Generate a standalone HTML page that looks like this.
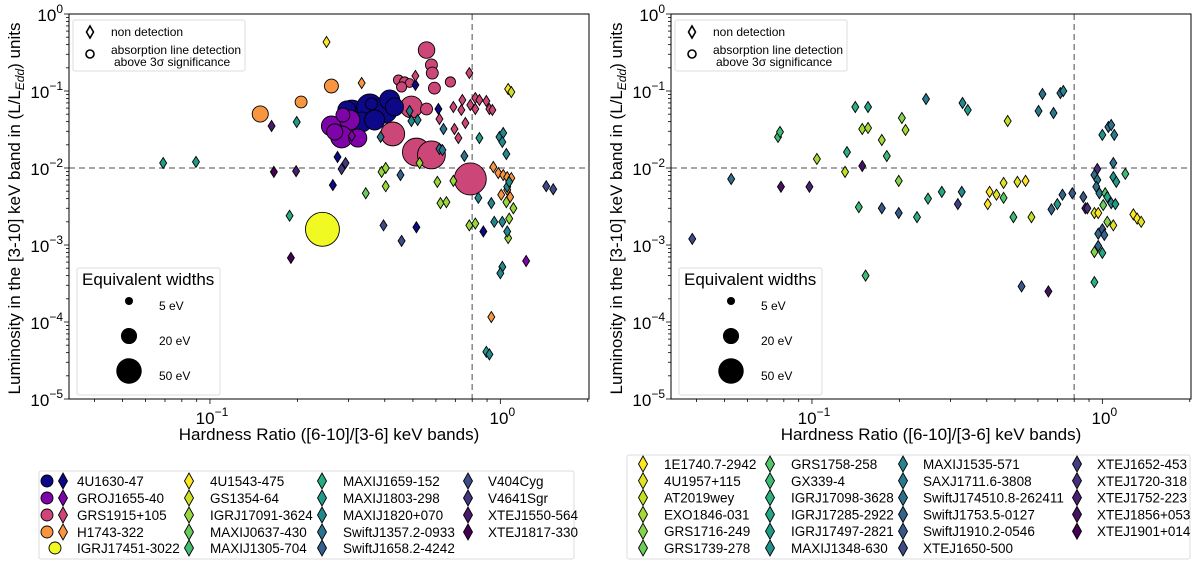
<!DOCTYPE html>
<html><head><meta charset="utf-8"><style>
body{margin:0;background:#fff;}
svg{display:block;font-family:"Liberation Sans","DejaVu Sans",sans-serif;}
</style></head><body>
<svg id="fig" width="1200" height="568" viewBox="0 0 1200 568" xmlns="http://www.w3.org/2000/svg"></svg>
<script>
// ---------- data ----------
const srcNamesL = ["4U1630-47","GROJ1655-40","GRS1915+105","H1743-322","IGRJ17451-3022","4U1543-475","GS1354-64","IGRJ17091-3624","MAXIJ0637-430","MAXIJ1305-704","MAXIJ1659-152","MAXIJ1803-298","MAXIJ1820+070","SwiftJ1357.2-0933","SwiftJ1658.2-4242","V404Cyg","V4641Sgr","XTEJ1550-564","XTEJ1817-330"];
const srcNamesR = ["1E1740.7-2942","4U1957+115","AT2019wey","EXO1846-031","GRS1716-249","GRS1739-278","GRS1758-258","GX339-4","IGRJ17098-3628","IGRJ17285-2922","IGRJ17497-2821","MAXIJ1348-630","MAXIJ1535-571","SAXJ1711.6-3808","SwiftJ174510.8-262411","SwiftJ1753.5-0127","SwiftJ1910.2-0546","XTEJ1650-500","XTEJ1652-453","XTEJ1720-318","XTEJ1752-223","XTEJ1856+053","XTEJ1901+014"];
// left panel detections (circles)
const detHR  = [0.557,0.579,0.583,0.593,0.673,0.446,0.468,0.487,0.457,0.494,0.416,0.557,0.426,0.514,0.579,0.788,0.262,0.206,0.149,0.308,0.355,0.399,0.416,0.333,0.369,0.296,0.432,0.36,0.262,0.303,0.284,0.323,0.269,0.287,0.244];
const detLum = [0.34,0.218,0.171,0.109,0.131,0.139,0.131,0.127,0.113,0.062,0.0678,0.0584,0.0277,0.0161,0.0148,0.0072,0.116,0.072,0.0503,0.0518,0.062,0.0567,0.0764,0.0396,0.042,0.0567,0.062,0.068,0.0351,0.042,0.0253,0.0245,0.0294,0.0488,0.0016];
const detEW  = [21,11,11,11,8,8,8,6,8,37,15,11,44,60,60,79,15,11,20,52,52,52,31,31,31,25,25,11,31,31,37,25,20,15,89];
const detSrc = [2,2,2,2,2,2,2,2,2,2,2,2,2,2,2,2,3,3,3,0,0,0,0,0,0,0,0,0,1,1,1,1,1,1,4];
// left panel non-detections (diamonds)
const ndHR  = [0.252,1.064,1.091,0.51,0.612,0.275,0.265,0.514,0.874,0.51,0.782,0.74,0.82,0.847,0.895,0.788,0.82,0.689,0.734,0.917,0.939,0.617,0.758,0.695,0.717,0.333,0.946,0.984,1.023,1.056,1.091,1.007,1.081,1.056,0.931,0.308,1.227,0.39,0.403,0.403,0.527,0.607,0.689,0.622,0.652,0.782,0.82,1.049,1.073,1.109,1.064,0.344,0.188,0.069,0.0895,0.199,0.494,0.519,0.847,0.993,1.023,1.016,1.049,1.056,1.073,0.84,0.931,0.953,1.016,1.056,1.016,1.0,0.895,0.917,0.487,0.637,0.387,0.617,0.632,0.752,0.453,0.396,0.457,1.439,1.521,0.284,0.293,0.163,0.198,0.166,0.19];
const ndLum = [0.433,0.106,0.097,0.12,0.0584,0.0139,0.006,0.0017,0.0015,0.157,0.171,0.0764,0.081,0.0764,0.0741,0.0658,0.0584,0.062,0.0567,0.0584,0.0567,0.0433,0.0384,0.0321,0.0245,0.127,0.0103,0.0086,0.0081,0.0076,0.0074,0.0045,0.0042,0.0052,0.000116,0.0261,0.00062,0.0089,0.01,0.0058,0.0116,0.0066,0.0068,0.0035,0.0036,0.0018,0.0019,0.0036,0.0022,0.003,0.00123,0.0047,0.0024,0.0116,0.012,0.0396,0.0408,0.042,0.0245,0.0253,0.0285,0.0218,0.0152,0.0057,0.0066,0.0041,0.0035,0.002,0.002,0.0015,0.00052,0.00043,0.000041,0.000038,0.055,0.0321,0.0253,0.0177,0.0171,0.0143,0.0081,0.0018,0.00113,0.0058,0.0053,0.0097,0.0116,0.0351,0.0091,0.0089,0.00068];
const ndSrc = [5,5,6,0,0,0,0,0,0,2,2,2,2,2,2,2,2,2,2,2,2,2,2,2,2,3,3,3,3,3,3,3,3,3,3,1,1,7,7,7,7,7,7,7,7,7,7,7,7,7,7,8,10,11,11,11,12,12,11,12,12,12,12,12,12,12,12,12,12,12,12,12,11,12,13,13,13,13,13,13,14,15,15,15,15,16,16,17,17,18,18];
// right panel (non-detections)
const rHR  = [0.0387,0.0527,0.0764,0.0776,0.0782,0.098,0.104,0.13,0.132,0.141,0.156,0.149,0.156,0.149,0.145,0.153,0.174,0.181,0.174,0.199,0.204,0.21,0.199,0.23,0.247,0.251,0.28,0.318,0.328,0.33,0.344,0.403,0.409,0.432,0.457,0.457,0.472,0.494,0.51,0.544,0.527,0.57,0.603,0.622,0.652,0.668,0.679,0.70,0.717,0.734,0.729,0.788,0.86,0.874,0.888,0.961,0.939,0.961,0.953,0.977,1.0,1.049,1.073,1.099,1.091,1.091,1.117,1.2,1.023,1.04,1.073,1.109,0.939,0.968,1.007,1.04,1.091,0.968,1.0,1.016,0.968,0.939,1.0,0.939,1.279,1.318,1.361];
const rLum = [0.0012,0.0072,0.0253,0.0294,0.0057,0.0057,0.0131,0.0089,0.0161,0.062,0.062,0.0321,0.0331,0.0106,0.0031,0.0004,0.0231,0.0143,0.003,0.0026,0.0446,0.0312,0.0068,0.0023,0.0787,0.004,0.0049,0.0034,0.0049,0.0698,0.0567,0.0034,0.0049,0.0045,0.0064,0.0041,0.0408,0.0023,0.0066,0.0068,0.00029,0.0023,0.055,0.0914,0.00025,0.0029,0.0518,0.0034,0.094,0.1,0.0045,0.0047,0.0042,0.003,0.003,0.0097,0.0081,0.007,0.0057,0.0047,0.0269,0.0341,0.0362,0.0269,0.0116,0.0076,0.0066,0.0084,0.0047,0.0042,0.0035,0.0034,0.0026,0.0026,0.0033,0.002,0.0018,0.0014,0.0016,0.00135,0.00097,0.00081,0.00079,0.00033,0.0025,0.0022,0.002];
const rSrc = [17,14,7,7,21,20,3,2,8,8,9,3,3,21,7,7,3,7,16,16,4,3,4,8,13,8,9,18,12,12,10,0,0,1,1,6,2,7,1,0,16,2,13,14,21,15,13,10,14,12,15,16,16,20,19,19,14,13,14,13,11,13,14,13,14,11,10,7,6,9,12,10,1,0,5,4,1,15,16,15,15,4,9,8,0,0,1];
const xTickVals = [0.1, 1];
const xTickLabels = ["10","10"];
const xTickExps = ["\u22121","0"];
const yTickVals = [1,0.1,0.01,0.001,0.0001,0.00001];
const yTickExps = ["0","\u22121","\u22122","\u22123","\u22124","\u22125"];
const ewLegendVals = [5,20,50];
const hrThreshold = 0.8, lumThreshold = 0.01;

// ---------- helpers ----------
const NS="http://www.w3.org/2000/svg";
const svg=document.getElementById('fig');
const X0=69,XW=520,Y0=14,YH=385,XMIN=0.0327,XMAX=2.02,YMIN=1e-5,YMAX=1;
function sx(v,off){return off+X0+(Math.log10(v)-Math.log10(XMIN))/(Math.log10(XMAX)-Math.log10(XMIN))*XW;}
function sy(v){return Y0+(Math.log10(YMAX)-Math.log10(v))/(Math.log10(YMAX)-Math.log10(YMIN))*YH;}
function mk(tag,attrs,parent){const e=document.createElementNS(NS,tag);for(const k in attrs)e.setAttribute(k,attrs[k]);(parent||svg).appendChild(e);return e;}
const plasma=["#0d0887","#7e03a8","#cc4778","#f89540","#f0f921"];
const vir=[[0,"#440154"],[0.1,"#482475"],[0.2,"#414487"],[0.3,"#355f8d"],[0.4,"#2a788e"],[0.5,"#21918c"],[0.6,"#22a884"],[0.7,"#44bf70"],[0.8,"#7ad151"],[0.9,"#bddf26"],[1,"#fde725"]];
function hx(h){return [1,3,5].map(i=>parseInt(h.substr(i,2),16));}
function viridis(t){for(let i=0;i<vir.length-1;i++){if(t<=vir[i+1][0]){const f=(t-vir[i][0])/(vir[i+1][0]-vir[i][0]);const a=hx(vir[i][1]),b=hx(vir[i+1][1]);return "rgb("+a.map((v,j)=>Math.round(v+(b[j]-v)*f)).join(",")+")";}}return vir[10][1];}
function colL(s){return s<5?plasma[s]:viridis(1-(s-5)/13);}
function colR(s){return viridis(1-s/22);}
function diamond(cx,cy,w,h,fill,parent){return mk('path',{d:`M${cx},${cy-h}L${cx+w},${cy}L${cx},${cy+h}L${cx-w},${cy}Z`,fill:fill,stroke:'#000','stroke-width':0.9},parent);}

function drawAxes(off,panel){
  const g=mk('g',{});
  
  
  for(let d=-2;d<=0;d++){for(let m=1;m<=9;m++){const v=m*Math.pow(10,d);if(v<XMIN||v>XMAX)continue;const x=sx(v,off);
    mk('line',{x1:x,x2:x,y1:Y0+YH,y2:Y0+YH+(m===1?5:3),stroke:'#000','stroke-width':0.8},g);}}
  for(let d=-5;d<0;d++){for(let m=1;m<=9;m++){const v=m*Math.pow(10,d);const y=sy(v);
    mk('line',{x1:off+X0,x2:off+X0-(m===1?5:3),y1:y,y2:y,stroke:'#000','stroke-width':0.8},g);}}
  mk('line',{x1:off+X0,x2:off+X0-5,y1:sy(1),y2:sy(1),stroke:'#000','stroke-width':0.8},g);
  xTickVals.forEach((v,i)=>{const t=mk('text',{x:sx(v,off)+2,y:Y0+YH+25,'text-anchor':'middle','font-size':17,fill:'#000'},g);
    
    t.textContent=xTickLabels[i];const s=mk('tspan',{dy:-8,'font-size':12},t);s.textContent=xTickExps[i];});
  yTickVals.forEach((v,i)=>{const t=mk('text',{x:off+X0-6,y:sy(v)+7,'text-anchor':'end','font-size':17,fill:'#000'},g);
    
    t.textContent="10";const s=mk('tspan',{dy:-8,'font-size':12},t);s.textContent=yTickExps[i];});
  const xl=mk('text',{x:off+X0+XW/2,y:440,'text-anchor':'middle','font-size':17,fill:'#000'},g);
  
  xl.textContent="Hardness Ratio ([6-10]/[3-6] keV bands)";
  const yl=mk('text',{x:0,y:0,transform:`translate(${off+20},${Y0+YH/2+2}) rotate(-90)`,'text-anchor':'middle','font-size':17,fill:'#000'},g);
  
  yl.textContent="Luminosity in the [3-10] keV band in (L/L";
  const sb=mk('tspan',{dy:4,'font-size':12,'font-style':'italic'},yl);sb.textContent="Edd";
  const t2=mk('tspan',{dy:-4},yl);t2.textContent=") units";
  const vl=mk('line',{x1:sx(hrThreshold,off),x2:sx(hrThreshold,off),y1:Y0,y2:Y0+YH,stroke:'#888','stroke-width':1.5,'stroke-dasharray':'6,4'},g);
  
  const hl=mk('line',{x1:off+X0,x2:off+X0+XW,y1:sy(lumThreshold),y2:sy(lumThreshold),stroke:'#888','stroke-width':1.5,'stroke-dasharray':'6,4'},g);
  
  return g;
}
function drawFrame(off,panel){
  const r=mk('rect',{x:off+X0,y:Y0,width:XW,height:YH,fill:'none',stroke:'#000','stroke-width':1});
  
}
function markerLegend(off,panel){
  const g=mk('g',{});
  
  mk('rect',{x:off+73,y:20,width:172,height:51,fill:'#fff',stroke:'#ddd','stroke-width':1,rx:2,'fill-opacity':0.85},g);
  const d=diamond(off+90,32,3.5,6,'#fff',g);d.setAttribute('stroke-width',1.6);
  mk('circle',{cx:off+90,cy:54,r:4,fill:'#fff',stroke:'#000','stroke-width':1.6},g);
  [["non detection",36],["absorption line detection",54],[" above 3\u03c3 significance",66]].forEach(([s,y],i)=>{
    const t=mk('text',{x:off+111,y:y,'font-size':12,fill:'#000'},g);
    
    t.textContent=s;if(i===2)t.setAttribute('x',off+114);});
}
function ewLegend(off,panel){
  const g=mk('g',{});
  
  mk('rect',{x:off+77,y:268,width:143,height:127,fill:'#fff',stroke:'#ddd','stroke-width':1,rx:2,'fill-opacity':0.85},g);
  const tt=mk('text',{x:off+82,y:285,'font-size':17,fill:'#000'},g);tt.textContent="Equivalent widths";
  
  const ys=[301,336,371];
  ewLegendVals.forEach((v,i)=>{
    const c=mk('circle',{cx:off+129,cy:ys[i],r:1.8*Math.sqrt(v),fill:'#000'},g);
    
    const t=mk('text',{x:off+159,y:ys[i]+9,'font-size':12,fill:'#000'},g);t.textContent=v+" eV";
    
  });
}

// ---------- left panel ----------
drawAxes(0,'left');
const gL=mk('g',{});


detEW.forEach((e,i)=>{
  const c=mk('circle',{cx:sx(detHR[i],0),cy:sy(detLum[i]),r:1.8*Math.sqrt(detEW[i]),fill:colL(detSrc[i]),stroke:'#000','stroke-width':0.9},gL);
  
  
});
ndHR.forEach((v,i)=>{
  const d=diamond(sx(v,0),sy(ndLum[i]),3.5,5.5,colL(ndSrc[i]),gL);
  
  
});
drawFrame(0,'left');
markerLegend(0,'left');
ewLegend(0,'left');

// ---------- right panel ----------
const OFF=602;
drawAxes(OFF,'right');
const gR=mk('g',{});


rHR.forEach((v,i)=>{
  const d=diamond(sx(v,OFF),sy(rLum[i]),3.5,5.5,colR(rSrc[i]),gR);
  
  
});
drawFrame(OFF,'right');
markerLegend(OFF,'right');
ewLegend(OFF,'right');

// ---------- bottom legends ----------
const lgL=mk('g',{});


mk('rect',{x:39,y:471,width:535,height:88,fill:'#fff',stroke:'#ddd','stroke-width':1,rx:2},lgL);
const rowsL=[481,498,515,532,548];
const colDL=[63,189,322,468], colTL=[77,210,343,488];
srcNamesL.forEach((n,i)=>{
  let col,row;
  if(i<5){col=0;row=i;}else if(i<10){col=1;row=i-5;}else if(i<15){col=2;row=i-10;}else{col=3;row=i-15;}
  const y=rowsL[row];
  if(i<5){const cx=(i===4)?55:47;const c=mk('circle',{cx:cx,cy:y,r:6,fill:colL(i),stroke:'#000','stroke-width':0.9},lgL);
    }
  if(i!==4){const d=diamond(colDL[col],y,4.5,8,colL(i),lgL);
    }
  const t=mk('text',{x:colTL[col],y:y+5,'font-size':13.5,fill:'#000'},lgL);t.textContent=n;
  
  
});
const lgR=mk('g',{});


mk('rect',{x:627,y:455,width:563,height:104,fill:'#fff',stroke:'#ddd','stroke-width':1,rx:2},lgR);
const colDR=[643,770,903,1077], colTR=[664,791,923,1097];
srcNamesR.forEach((n,i)=>{
  const col=Math.floor(i/6),row=i%6,y=464+row*16.8;
  const d=diamond(colDR[col],y,4.5,8,colR(i),lgR);
  
  const t=mk('text',{x:colTR[col],y:y+5,'font-size':13.5,fill:'#000'},lgR);t.textContent=n;
  
  
});
</script>
</body></html>
